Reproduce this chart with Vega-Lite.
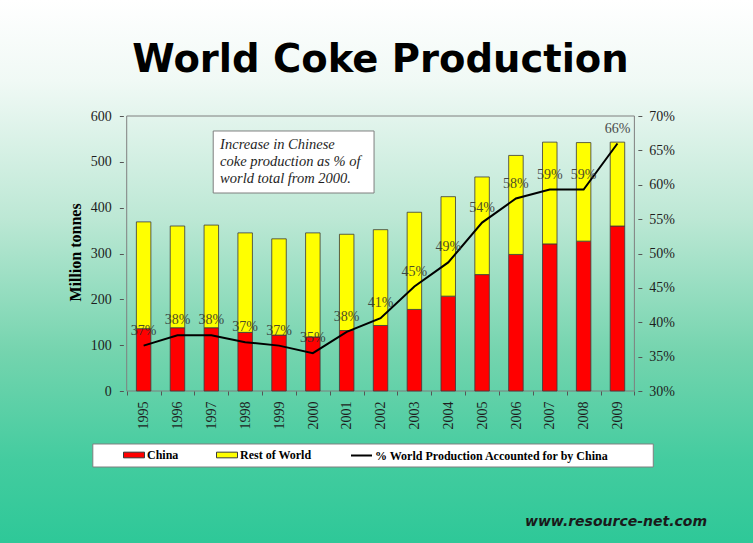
{
  "$schema": "https://vega.github.io/schema/vega-lite/v6.json",
  "width": 753,
  "height": 543,
  "padding": 0,
  "autosize": {"type": "none"},
  "background": "#ffffff",
  "config": {"view": {"stroke": null}},
  "title": {"text": "World Coke Production", "font": "DejaVu Sans", "fontWeight": "bold", "fontSize": 38.5, "color": "#000000", "anchor": "middle", "frame": "group", "baseline": "alphabetic", "offset": -74, "dy": 36, "dx": 4},
  "datasets": {
    "prod": [
      {"year": 1995, "series": "China", "value": 136}, {"year": 1995, "series": "Rest of World", "value": 233},
      {"year": 1996, "series": "China", "value": 138}, {"year": 1996, "series": "Rest of World", "value": 222},
      {"year": 1997, "series": "China", "value": 138}, {"year": 1997, "series": "Rest of World", "value": 224},
      {"year": 1998, "series": "China", "value": 128}, {"year": 1998, "series": "Rest of World", "value": 217},
      {"year": 1999, "series": "China", "value": 122}, {"year": 1999, "series": "Rest of World", "value": 210},
      {"year": 2000, "series": "China", "value": 118}, {"year": 2000, "series": "Rest of World", "value": 227},
      {"year": 2001, "series": "China", "value": 132}, {"year": 2001, "series": "Rest of World", "value": 210},
      {"year": 2002, "series": "China", "value": 143}, {"year": 2002, "series": "Rest of World", "value": 209},
      {"year": 2003, "series": "China", "value": 178}, {"year": 2003, "series": "Rest of World", "value": 212},
      {"year": 2004, "series": "China", "value": 207}, {"year": 2004, "series": "Rest of World", "value": 217},
      {"year": 2005, "series": "China", "value": 254}, {"year": 2005, "series": "Rest of World", "value": 213},
      {"year": 2006, "series": "China", "value": 298}, {"year": 2006, "series": "Rest of World", "value": 216},
      {"year": 2007, "series": "China", "value": 321}, {"year": 2007, "series": "Rest of World", "value": 222},
      {"year": 2008, "series": "China", "value": 327}, {"year": 2008, "series": "Rest of World", "value": 215},
      {"year": 2009, "series": "China", "value": 360}, {"year": 2009, "series": "Rest of World", "value": 183}
    ],
    "share": [
      {"year": 1995, "series": "% World Production Accounted for by China", "pct": 0.366, "label": "37%"},
      {"year": 1996, "series": "% World Production Accounted for by China", "pct": 0.381, "label": "38%"},
      {"year": 1997, "series": "% World Production Accounted for by China", "pct": 0.381, "label": "38%"},
      {"year": 1998, "series": "% World Production Accounted for by China", "pct": 0.371, "label": "37%"},
      {"year": 1999, "series": "% World Production Accounted for by China", "pct": 0.366, "label": "37%"},
      {"year": 2000, "series": "% World Production Accounted for by China", "pct": 0.355, "label": "35%"},
      {"year": 2001, "series": "% World Production Accounted for by China", "pct": 0.386, "label": "38%"},
      {"year": 2002, "series": "% World Production Accounted for by China", "pct": 0.406, "label": "41%"},
      {"year": 2003, "series": "% World Production Accounted for by China", "pct": 0.452, "label": "45%"},
      {"year": 2004, "series": "% World Production Accounted for by China", "pct": 0.487, "label": "49%"},
      {"year": 2005, "series": "% World Production Accounted for by China", "pct": 0.545, "label": "54%"},
      {"year": 2006, "series": "% World Production Accounted for by China", "pct": 0.580, "label": "58%"},
      {"year": 2007, "series": "% World Production Accounted for by China", "pct": 0.593, "label": "59%"},
      {"year": 2008, "series": "% World Production Accounted for by China", "pct": 0.593, "label": "59%"},
      {"year": 2009, "series": "% World Production Accounted for by China", "pct": 0.660, "label": "66%"}
    ],
    "notes": [
      {"note": "Increase in Chinese\ncoke production as % of\nworld total from 2000.", "kind": "annotation"},
      {"note": "www.resource-net.com", "kind": "source"}
    ]
  },
  "layer": [
    {
      "data": {"values": [{}]},
      "mark": {"type": "rect", "fill": {"gradient": "linear", "x1": 0, "y1": 0, "x2": 0, "y2": 1, "stops": [
        {"offset": 0, "color": "#ffffff"},
        {"offset": 0.15, "color": "#f0f9f5"},
        {"offset": 0.4, "color": "#bde8d5"},
        {"offset": 0.65, "color": "#74d4ae"},
        {"offset": 0.85, "color": "#43cc9f"},
        {"offset": 1, "color": "#2ec898"}
      ]}},
      "encoding": {}
    },
    {
      "layer": [
        {
          "data": {"values": [{}]},
          "mark": {"type": "rect", "fill": null, "stroke": "#7f7f7f", "strokeWidth": 1},
          "encoding": {
            "x": {"datum": 1994.5, "type": "quantitative", "scale": {"domain": [1990.904, 2012.857], "nice": false, "zero": false}},
            "x2": {"datum": 2009.5},
            "y": {"datum": 0, "type": "quantitative", "scale": {"domain": [-331.6, 853.1], "nice": false, "zero": false}},
            "y2": {"datum": 600}
          }
        },
        {
          "data": {"values": [{}]},
          "mark": {"type": "rect", "fill": "#ffffff", "stroke": "#7f7f7f", "strokeWidth": 1},
          "encoding": {
            "x": {"datum": 1997.056, "type": "quantitative"},
            "x2": {"datum": 2001.808},
            "y": {"datum": 567.3, "type": "quantitative"},
            "y2": {"datum": 432.0}
          }
        },
        {
          "data": {"values": [{}]},
          "mark": {"type": "rect", "fill": "#ffffff", "stroke": "#7f7f7f", "strokeWidth": 1},
          "encoding": {
            "x": {"datum": 1993.499, "type": "quantitative"},
            "x2": {"datum": 2010.058},
            "y": {"datum": -115.6, "type": "quantitative"},
            "y2": {"datum": -165.8}
          }
        },
        {
          "data": {"name": "notes"},
          "transform": [{"filter": "datum.kind === 'annotation'"}],
          "mark": {"type": "text", "align": "left", "baseline": "alphabetic", "font": "Liberation Serif", "fontStyle": "italic", "fontSize": 14.5, "color": "#1e1e1e", "lineBreak": "\n", "lineHeight": 17},
          "encoding": {
            "x": {"datum": 1997.26, "type": "quantitative"},
            "y": {"datum": 527.3, "type": "quantitative"},
            "text": {"field": "note"}
          }
        },
        {
          "data": {"name": "notes"},
          "transform": [{"filter": "datum.kind === 'source'"}],
          "mark": {"type": "text", "align": "left", "baseline": "alphabetic", "font": "DejaVu Sans", "fontStyle": "italic", "fontWeight": "bold", "fontSize": 14, "color": "#1a1a1a"},
          "encoding": {
            "x": {"datum": 2006.268, "type": "quantitative"},
            "y": {"datum": -293.9, "type": "quantitative"},
            "text": {"field": "note"}
          }
        },
        {
          "data": {"name": "prod"},
          "mark": {"type": "bar", "width": 14.5, "stroke": "#3a3a3a", "strokeWidth": 0.8},
          "encoding": {
            "x": {"field": "year", "type": "quantitative", "scale": {"domain": [1990.904, 2012.857], "nice": false, "zero": false},
              "axis": {"orient": "bottom", "offset": -152, "zindex": 1, "title": null, "domain": false, "grid": false,
                "values": [1994.5, 1995.5, 1996.5, 1997.5, 1998.5, 1999.5, 2000.5, 2001.5, 2002.5, 2003.5, 2004.5, 2005.5, 2006.5, 2007.5, 2008.5, 2009.5],
                "labelExpr": "datum.value > 2009 ? '' : format(datum.value + 0.5, 'd')",
                "labelOffset": 17.15, "labelAngle": 270, "labelPadding": 6, "tickSize": 4, "tickColor": "#555555",
                "labelFont": "Liberation Serif", "labelFontSize": 14, "labelColor": "#1e1e1e",
                "labelBound": false, "labelOverlap": false, "labelFlush": false}},
            "y": {"field": "value", "type": "quantitative", "stack": "zero", "scale": {"domain": [-331.6, 853.1], "nice": false, "zero": false},
              "axis": {"orient": "left", "offset": -123.35, "zindex": 1, "domain": false, "grid": false,
                "values": [0, 100, 200, 300, 400, 500, 600], "tickSize": 4, "tickColor": "#555555",
                "labelFont": "Liberation Serif", "labelFontSize": 14, "labelColor": "#1e1e1e", "labelPadding": 8,
                "labelBound": false, "labelOverlap": false, "labelFlush": false,
                "title": "Million tonnes", "titleFont": "Liberation Serif", "titleFontSize": 16, "titleFontWeight": "bold", "titleColor": "#000000",
                "titleAngle": 270, "titleAlign": "center", "titleBaseline": "middle", "titleX": -48, "titleY": 252}},
            "order": {"field": "series", "sort": "ascending"},
            "color": {"field": "series", "type": "nominal",
              "scale": {"domain": ["China", "Rest of World"], "range": ["#ff0000", "#ffff00"]},
              "legend": {"orient": "none", "legendX": 123, "legendY": 444, "direction": "horizontal", "title": null, "padding": 0,
                "symbolType": "M-1,-0.27H1V0.27H-1Z", "symbolSize": 441, "symbolStrokeWidth": 1, "symbolStrokeColor": "#3a3a3a",
                "labelOffset": 2, "columnPadding": 35,
                "labelFont": "Liberation Serif", "labelFontWeight": "bold", "labelFontSize": 12, "labelColor": "#000000", "labelLimit": 400}}
          }
        }
      ]
    },
    {
      "data": {"name": "share"},
      "layer": [
        {
          "mark": {"type": "line", "strokeWidth": 2},
          "encoding": {
            "x": {"field": "year", "type": "quantitative"},
            "y": {"field": "pct", "type": "quantitative", "scale": {"domain": [0.07891, 0.86873], "nice": false, "zero": false},
              "axis": {"orient": "right", "offset": -115.15, "zindex": 1, "domain": false, "grid": false, "title": null,
                "values": [0.3, 0.35, 0.4, 0.45, 0.5, 0.55, 0.6, 0.65, 0.7], "format": ".0%", "tickSize": 4, "tickColor": "#555555",
                "labelFont": "Liberation Serif", "labelFontSize": 14, "labelColor": "#1e1e1e", "labelPadding": 7,
                "labelBound": false, "labelOverlap": false, "labelFlush": false}},
            "stroke": {"field": "series", "type": "nominal",
              "scale": {"domain": ["% World Production Accounted for by China"], "range": ["#000000"]},
              "legend": {"orient": "none", "legendX": 350, "legendY": 444, "direction": "horizontal", "title": null, "padding": 0,
                "symbolType": "M-1,0H1", "symbolSize": 441, "symbolStrokeWidth": 2,
                "labelOffset": 2,
                "labelFont": "Liberation Serif", "labelFontWeight": "bold", "labelFontSize": 12, "labelColor": "#000000", "labelLimit": 400}}
          }
        },
        {
          "mark": {"type": "text", "dy": -15, "font": "Liberation Serif", "fontSize": 14, "color": "#2e2e2e", "opacity": 0.85},
          "encoding": {
            "x": {"field": "year", "type": "quantitative"},
            "y": {"field": "pct", "type": "quantitative", "scale": {"domain": [0.07891, 0.86873], "nice": false, "zero": false}},
            "text": {"field": "label"}
          }
        }
      ]
    }
  ],
  "resolve": {"scale": {"y": "independent"}, "axis": {"y": "independent"}}
}
